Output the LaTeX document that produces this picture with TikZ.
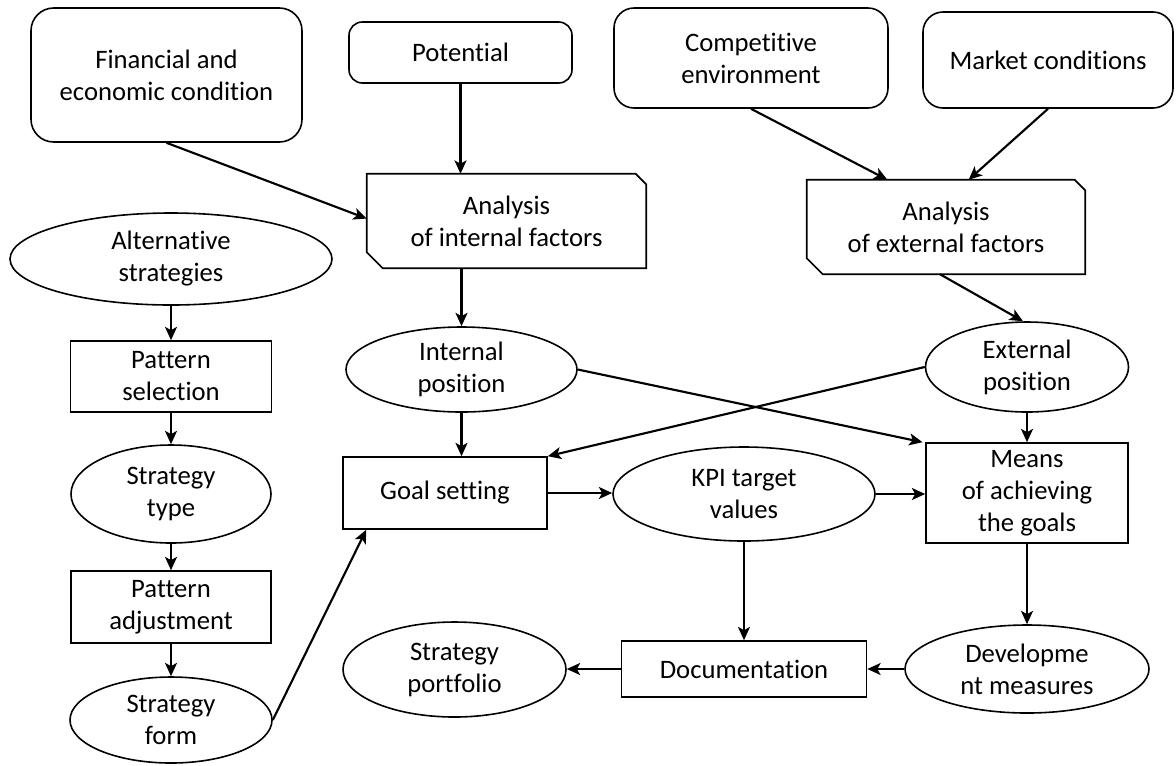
\documentclass[tikz,border=0pt]{standalone}
\usepackage{fontspec}
\setmainfont{Carlito}[Ligatures={NoCommon,NoContextual}]
\usetikzlibrary{arrows.meta,shapes.geometric}
\begin{document}
\begin{tikzpicture}[x=0.75pt,y=-0.75pt,
  every node/.style={font=\fontsize{20}{24}\selectfont, align=center, inner sep=0pt},
  sz/.style 2 args={minimum width=#1*0.75pt, minimum height=#2*0.75pt},
  rbox/.style={draw, line width=1.2pt, rounded corners=#1},
  pbox/.style={draw, line width=1.2pt, rectangle},
  oval/.style={draw, line width=1.2pt, ellipse},
  cutline/.style={draw, line width=1.2pt},
  arr/.style={line width=1.6pt, -{Stealth[length=10pt,width=9pt,inset=2.5pt]}}
]
\useasboundingbox (0,0) rectangle (1176,765);

% top row
\node[rbox=17pt, sz={271}{134}] (fin) at (166.5,75) {Financial and\\economic condition};
\node[rbox=10pt, sz={223}{61}] (pot) at (460.5,52.5) {Potential};
\node[rbox=15pt, sz={274}{100}] (comp) at (751,58) {Competitive\\environment};
\node[rbox=15pt, sz={250}{96}] (mkt) at (1048,60) {Market conditions};

% analysis boxes (cut corners)
\node[sz={279}{94}] (anin) at (506.5,221) {Analysis\\of internal factors};
\node[sz={278}{94}] (anex) at (946,227) {Analysis\\of external factors};
\path[cutline] (anin.north west) -- ([xshift=-8pt]anin.north east) -- ([yshift=-8pt]anin.north east) -- (anin.south east) -- ([xshift=12pt]anin.south west) -- ([yshift=12pt]anin.south west) -- cycle;
\path[cutline] (anex.north west) -- ([xshift=-8pt]anex.north east) -- ([yshift=-8pt]anex.north east) -- (anex.south east) -- ([xshift=12pt]anex.south west) -- ([yshift=12pt]anex.south west) -- cycle;

% left column
\node[oval, sz={322}{92}] (alt) at (171,259) {Alternative\\strategies};
\node[pbox, sz={201}{71}] (psel) at (171,376.5) {Pattern\\selection};
\node[oval, sz={200}{98}] (stype) at (171,494) {Strategy\\type};
\node[pbox, sz={200}{72}] (padj) at (171,607) {Pattern\\adjustment};
\node[oval, sz={202}{86}] (sform) at (171,720) {Strategy\\form};

% middle
\node[oval, sz={231}{85}] (inpos) at (461.5,369.5) {Internal\\position};
\node[pbox, sz={204}{72}] (goal) at (445,493) {Goal setting};
\node[oval, sz={262}{94}] (kpi) at (744,494) {KPI target\\values};
\node[oval, sz={223}{95}] (port) at (454.5,669.5) {Strategy\\portfolio};
\node[pbox, sz={245}{56}] (doc) at (744,669) {Documentation};

% right
\node[oval, sz={203}{90}] (expos) at (1027,367) {External\\position};
\node[pbox, sz={202}{100}] (means) at (1027,493) {Means\\of achieving\\the goals};
\node[oval, sz={244}{88}] (dev) at (1027,669) {Developme\\nt measures};

% connectors
\draw[arr] (fin.south) -- (anin.179);
\draw[arr] (pot.south) -- (pot.south |- anin.north);
\draw[arr] (comp.south) -- ([xshift=-44pt]anex.north);
\draw[arr] (mkt.south) -- ([xshift=17pt]anex.north);
\draw[arr] (inpos.north |- anin.south) -- (inpos.north);
\draw[arr] ([xshift=-4.5pt]anex.south) -- ([xshift=-3pt]expos.north);
\draw[arr] (alt.south) -- (psel.north);
\draw[arr] (psel.south) -- (stype.north);
\draw[arr] (stype.south) -- (padj.north);
\draw[arr] (padj.south) -- (sform.north);
\draw[arr] (sform.east) -- ([xshift=18pt]goal.south west);
\draw[arr] (inpos.south) -- (inpos.south |- goal.north);
\draw[arr] (inpos.east) -- ([xshift=-2pt]means.north west);
\draw[arr] (expos.west) -- (goal.north east);
\draw[arr] (expos.south) -- (means.north);
\draw[arr] (goal.east) -- (goal.east -| kpi.west);
\draw[arr] (kpi.east) -- (kpi.east -| means.west);
\draw[arr] (kpi.south) -- (kpi.south |- doc.north);
\draw[arr] (means.south) -- (means.south |- dev.north);
\draw[arr] (dev.west) -- (dev.west -| doc.east);
\draw[arr] (doc.west) -- (doc.west -| port.east);
\end{tikzpicture}
\end{document}
